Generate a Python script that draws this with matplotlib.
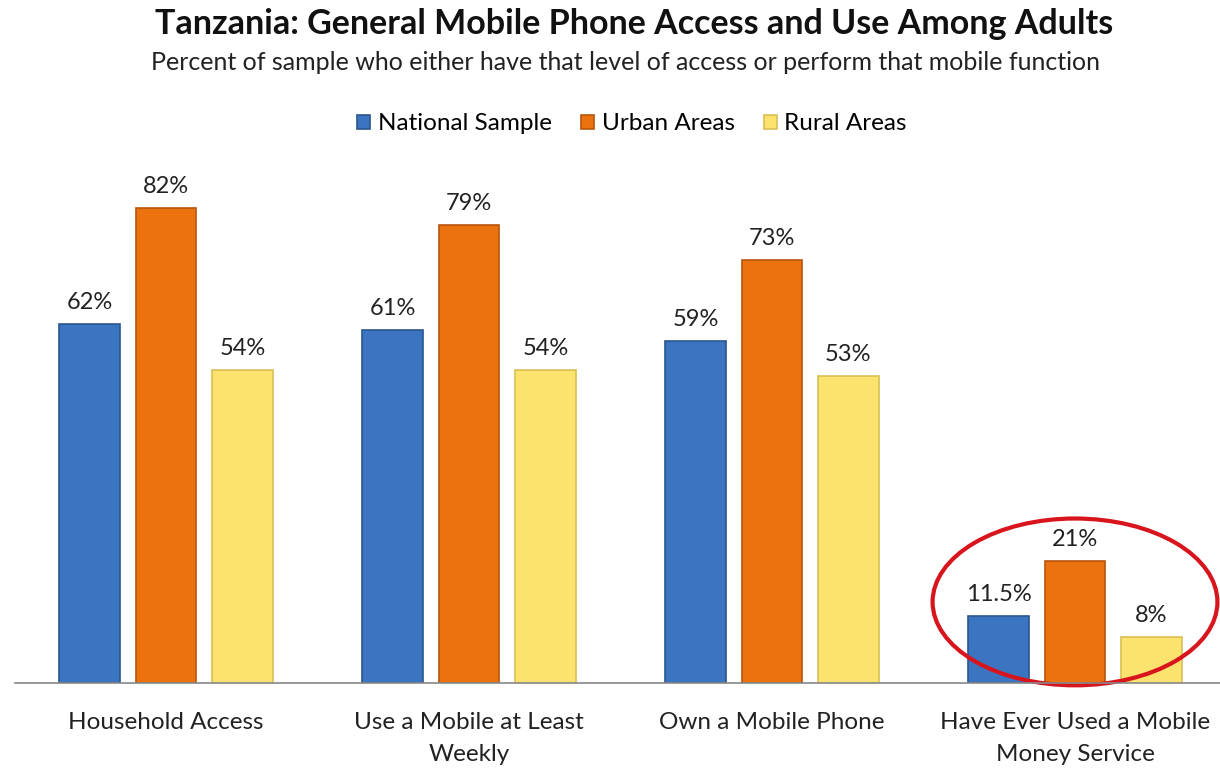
import matplotlib
matplotlib.use("Agg")
import matplotlib.pyplot as plt
import numpy as np
from matplotlib.patches import Ellipse

categories = ["Household Access", "Use a Mobile at Least\nWeekly",
              "Own a Mobile Phone", "Have Ever Used a Mobile\nMoney Service"]
series_names = ["National Sample", "Urban Areas", "Rural Areas"]
national = [62, 61, 59, 11.5]
urban = [82, 79, 73, 21]
rural = [54, 54, 53, 8]
labels_national = ["62%", "61%", "59%", "11.5%"]
labels_urban = ["82%", "79%", "73%", "21%"]
labels_rural = ["54%", "54%", "53%", "8%"]

colors = ["#3b74c1", "#ec7210", "#fbe36e"]
edges = ["#2a5690", "#b8560a", "#d9c055"]

plt.rcParams['font.family'] = ['Lato', 'DejaVu Sans']

fig = plt.figure(figsize=(12.2, 7.7), dpi=100)
ax = fig.add_axes([14.5 / 1220, 87 / 770, 1212 / 1220, 523 / 770])

x = np.arange(len(categories))
width = 0.2
step = 0.252
data = [national, urban, rural]
texts = [labels_national, labels_urban, labels_rural]
handles = []
for i, (vals, lbls) in enumerate(zip(data, texts)):
    bars = ax.bar(x + (i - 1) * step, vals, width, color=colors[i],
                  edgecolor=edges[i], linewidth=1.2, label=series_names[i])
    handles.append(bars)
    for b, t in zip(bars, lbls):
        ax.annotate(t, (b.get_x() + b.get_width() / 2, b.get_height()),
                    xytext=(0, 8), textcoords="offset points",
                    ha="center", va="bottom", fontsize=17, color="#222222")

ax.set_xlim(-0.5, 3.5)
ax.set_ylim(0, 90.3)
ax.set_xticks(x)
ax.set_xticklabels(categories, fontsize=17.5, color="#222222", linespacing=1.65)
ax.tick_params(axis="x", length=0, pad=21)
ax.set_yticks([])
for s in ["top", "right", "left"]:
    ax.spines[s].set_visible(False)
ax.spines["bottom"].set_color("#888888")
ax.spines["bottom"].set_linewidth(1.2)

# red highlight around the mobile money group
ax.add_patch(Ellipse((3.0, 14), 0.94, 28.8, fill=False,
                     edgecolor="#d8141c", linewidth=3, clip_on=False))

fig.text(0.52, 1 - 24 / 770, "Tanzania: General Mobile Phone Access and Use Among Adults",
         ha="center", va="center", fontsize=24.5, fontweight="bold", color="#111111")
fig.text(0.513, 1 - 62 / 770,
         "Percent of sample who either have that level of access or perform that mobile function",
         ha="center", va="center", fontsize=18, color="#222222")

fig.legend(handles=handles, labels=series_names, loc="center",
           bbox_to_anchor=(0.518, 1 - 124 / 770), ncol=3, frameon=False,
           fontsize=17.5, handlelength=0.55, handleheight=0.55,
           handletextpad=0.3, columnspacing=1.2)

fig.savefig("out.png", dpi=100)
